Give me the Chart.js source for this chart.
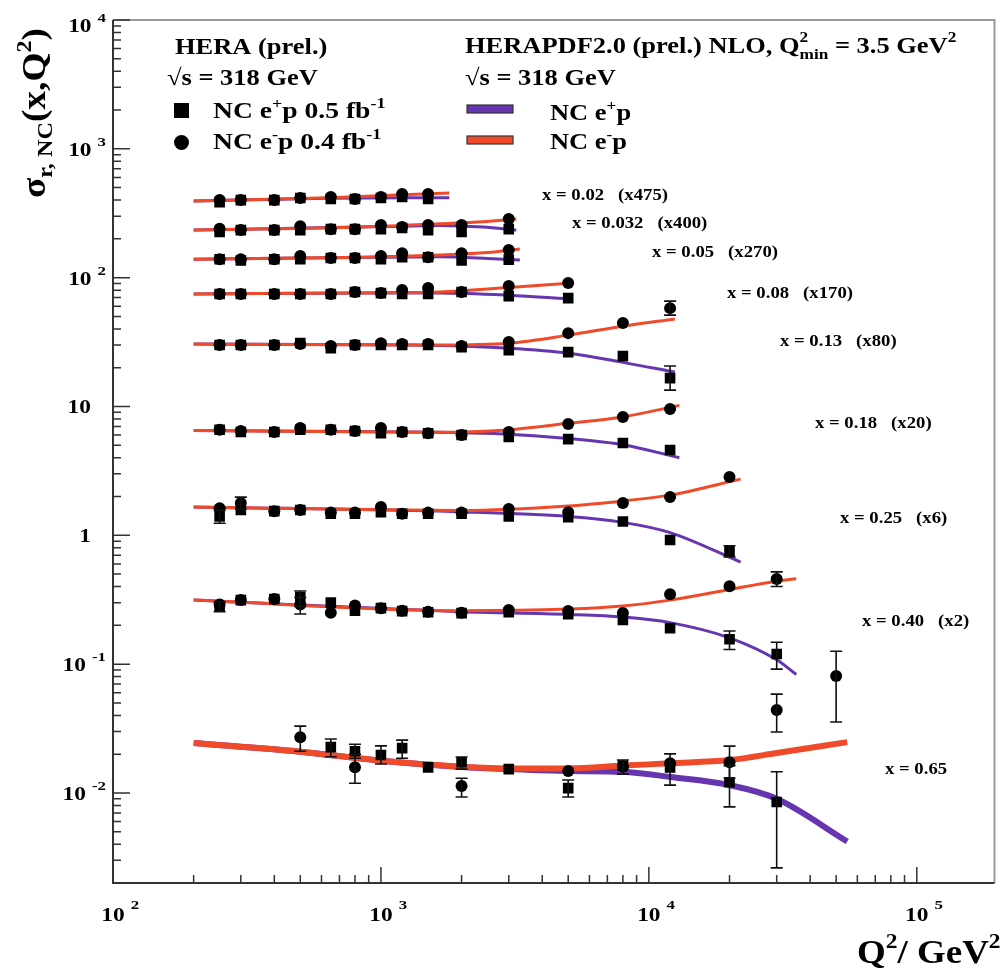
<!DOCTYPE html>
<html>
<head>
<meta charset="utf-8">
<title>HERA NC reduced cross sections</title>
<script src="https://cdn.jsdelivr.net/npm/chart.js@4.4.1/dist/chart.umd.min.js"></script>
<style>
  html, body { margin: 0; padding: 0; background: #fff; }
  canvas { display: block; }
</style>
</head>
<body>
<canvas id="sigmaChart" width="1002" height="972"></canvas>
<script>
// Q2 bins of the measured points (GeV^2)
const Q2 = [250, 300, 400, 500, 650, 800, 1000, 1200, 1500, 2000, 3000, 5000, 8000, 12000, 20000, 30000, 50000];

// sigma_r,NC per x bin, already multiplied by the factor in the row label
// ep = e+p (squares), em = e-p (circles); null = no point
const ep_002  = [386, 400, 400, 415, 408, 408, 415, 423, 408];
const em_002  = [400, 400, 400, 415, 423, 408, 423, 446, 446];
const ep_0032 = [226, 234, 234, 234, 238, 238, 238, 243, 234, 226, 238];
const em_0032 = [240, 234, 234, 251, 238, 238, 256, 247, 256, 256, 285];
const ep_005  = [139, 136, 139, 139, 142, 142, 139, 144, 144, 136, 138];
const em_005  = [139, 139, 139, 147, 142, 142, 147, 155, 144, 155, 164];
const ep_008  = [74.6, 74.6, 74.6, 74.6, 74.6, 77.3, 75.9, 74.6, 74.6, 77.3, 71.9, 69.4];
const em_008  = [74.6, 74.6, 74.6, 74.6, 74.6, 77.3, 75.9, 80.1, 83.0, 77.3, 86.1, 90.8];
const ep_013  = [30.0, 30.0, 30.0, 31.1, 28.4, 30.0, 30.0, 30.0, 30.0, 28.9, 27.4, 26.4, 24.6, 16.6];
const em_013  = [30.0, 30.0, 30.0, 30.5, 29.5, 30.0, 31.0, 30.5, 30.5, 29.5, 31.6, 37.1, 44.4, 58.0];
const ep_018  = [6.6, 6.33, 6.33, 6.6, 6.6, 6.45, 6.2, 6.33, 6.2, 6.0, 5.8, 5.58, 5.2, 4.59];
const em_018  = [6.6, 6.45, 6.33, 6.8, 6.6, 6.45, 6.8, 6.33, 6.2, 6.0, 6.33, 7.3, 8.27, 9.55];
const ep_025  = [1.40, 1.57, 1.54, 1.57, 1.47, 1.47, 1.51, 1.47, 1.47, 1.47, 1.40, 1.38, 1.28, 0.92, 0.75];
const em_025  = [1.62, 1.78, 1.54, 1.57, 1.50, 1.50, 1.66, 1.47, 1.50, 1.50, 1.60, 1.51, 1.78, 1.98, 2.83];
const ep_040  = [0.28, 0.314, 0.32, 0.33, 0.30, 0.26, 0.272, 0.258, 0.253, 0.249, 0.253, 0.244, 0.220, 0.190, 0.156, 0.120];
const em_040  = [0.29, 0.314, 0.32, 0.29, 0.25, 0.285, 0.272, 0.26, 0.255, 0.25, 0.263, 0.258, 0.249, 0.349, 0.403, 0.457];
const ep_065  = [null, null, null, null, 0.0227, 0.0211, 0.0197, 0.0223, 0.0158, 0.0173, 0.0153, 0.0109, 0.0163, 0.0158, 0.0121, 0.0085];
const em_065  = [null, null, null, 0.0271, null, 0.0158, null, null, null, 0.0113, null, 0.0148, 0.0160, 0.0170, 0.0173, 0.044, 0.081];

// error bars large enough to show: [Q2, low, high]
const epErr_013 = [[12000, 13.4, 20.6]];
const emErr_013 = [[12000, 51.2, 65.7]];
const epErr_025 = [[250, 1.24, 1.56], [20000, 0.68, 0.83]];
const emErr_025 = [[300, 1.60, 1.98]];
const epErr_040 = [[250, 0.255, 0.305], [500, 0.28, 0.37], [20000, 0.130, 0.181], [30000, 0.0915, 0.148]];
const emErr_040 = [[500, 0.245, 0.33], [30000, 0.40, 0.52]];
const epErr_065 = [[650, 0.0191, 0.0262], [800, 0.0186, 0.0239], [1000, 0.0168, 0.0232], [1200, 0.0186, 0.0257],
                   [2000, 0.0153, 0.0190], [5000, 0.0093, 0.0126], [8000, 0.0140, 0.0180], [12000, 0.0115, 0.0201],
                   [20000, 0.0078, 0.0163], [30000, 0.00262, 0.0146]];
const emErr_065 = [[500, 0.0211, 0.0330], [800, 0.0119, 0.0200], [2000, 0.0093, 0.0130], [20000, 0.0130, 0.0231],
                   [30000, 0.0297, 0.0585], [50000, 0.0355, 0.126]];

// HERAPDF2.0 NLO predictions: Q2 nodes, e+p and e-p values
const fitQ_002  = [200, 640, 1800];
const fitP_002  = [393, 414, 418];
const fitM_002  = [393, 418, 454];
const fitQ_0032 = [200, 1000, 1650, 2400, 3200];
const fitP_0032 = [234, 249, 254, 247, 234];
const fitM_0032 = [234, 250, 262, 272, 285];
const fitQ_005  = [200, 1000, 1650, 2500, 3300];
const fitP_005  = [139, 144, 145, 141, 137];
const fitM_005  = [139, 145, 150, 157, 167];
const fitQ_008  = [200, 1000, 1650, 3000, 5200];
const fitP_008  = [74.8, 76, 76, 73, 68];
const fitM_008  = [74.8, 76.5, 77.5, 84, 91];
const fitQ_013  = [200, 1650, 3000, 5000, 8000, 12500];
const fitP_013  = [30.5, 29.8, 28.3, 25.9, 22.0, 18.5];
const fitM_013  = [30.5, 30.0, 31.0, 35.8, 42, 47.8];
const fitQ_018  = [200, 1650, 2750, 5000, 8000, 13000];
const fitP_018  = [6.5, 6.3, 6.15, 5.65, 5.05, 4.0];
const fitM_018  = [6.5, 6.3, 6.5, 7.4, 8.3, 10.2];
const fitQ_025  = [200, 2000, 5000, 8000, 12000, 22000];
const fitP_025  = [1.66, 1.52, 1.40, 1.26, 1.05, 0.62];
const fitM_025  = [1.66, 1.56, 1.69, 1.85, 2.05, 2.73];
const fitQ_040  = [200, 2000, 5000, 8000, 12000, 20000, 30000, 35500];
const fitP_040  = [0.314, 0.255, 0.243, 0.232, 0.21, 0.16, 0.108, 0.083];
const fitM_040  = [0.314, 0.26, 0.268, 0.283, 0.314, 0.38, 0.44, 0.46];
const fitQ_065  = [200, 500, 1000, 2000, 3000, 5000, 8000, 12000, 20000, 30000, 55000];
const fitP_065  = [0.0244, 0.0209, 0.0178, 0.0159, 0.0153, 0.0148, 0.0146, 0.0133, 0.0115, 0.0090, 0.0042];
const fitM_065  = [0.0244, 0.0209, 0.0178, 0.0160, 0.0155, 0.0155, 0.0163, 0.0170, 0.0180, 0.0204, 0.0248];

const ROW_NAMES   = ['x = 0.02', 'x = 0.032', 'x = 0.05', 'x = 0.08', 'x = 0.13', 'x = 0.18', 'x = 0.25', 'x = 0.40', 'x = 0.65'];
const ROW_FACTORS = ['(x475)', '(x400)', '(x270)', '(x170)', '(x80)', '(x20)', '(x6)', '(x2)', ''];

// axis ranges and decade labels
const X_RANGE = [100, 1.95e5];
const Y_RANGE = [0.002, 1e4];
const X_DECADES = [2, 3, 4, 5];
const Y_DECADES = [-2, -1, 0, 1, 2, 3, 4];

const PURPLE = '#6636b0';
const RED = '#ef4b2b';
const FONT = '"Liberation Serif", "DejaVu Serif", serif';

const rows = [
    { ep: ep_002,  em: em_002,  epErr: [],        emErr: [],        fq: fitQ_002,  fp: fitP_002,  fm: fitM_002 },
    { ep: ep_0032, em: em_0032, epErr: [],        emErr: [],        fq: fitQ_0032, fp: fitP_0032, fm: fitM_0032 },
    { ep: ep_005,  em: em_005,  epErr: [],        emErr: [],        fq: fitQ_005,  fp: fitP_005,  fm: fitM_005 },
    { ep: ep_008,  em: em_008,  epErr: [],        emErr: [],        fq: fitQ_008,  fp: fitP_008,  fm: fitM_008 },
    { ep: ep_013,  em: em_013,  epErr: epErr_013, emErr: emErr_013, fq: fitQ_013,  fp: fitP_013,  fm: fitM_013 },
    { ep: ep_018,  em: em_018,  epErr: [],        emErr: [],        fq: fitQ_018,  fp: fitP_018,  fm: fitM_018 },
    { ep: ep_025,  em: em_025,  epErr: epErr_025, emErr: emErr_025, fq: fitQ_025,  fp: fitP_025,  fm: fitM_025 },
    { ep: ep_040,  em: em_040,  epErr: epErr_040, emErr: emErr_040, fq: fitQ_040,  fp: fitP_040,  fm: fitM_040 },
    { ep: ep_065,  em: em_065,  epErr: epErr_065, emErr: emErr_065, fq: fitQ_065,  fp: fitP_065,  fm: fitM_065, thick: true }
];

// where the row labels sit on the canvas (left x, baseline y)
const ROW_LABEL_AT = [[542, 200], [572, 228], [652, 257], [727, 298], [780, 346], [815, 428], [840, 523], [862, 626], [885, 774]];

function toPoints(xs, ys) {
    return xs.map((x, i) => (ys[i] == null ? null : { x: x, y: ys[i] })).filter(p => p !== null);
}

function buildDatasets() {
    const sets = [];
    rows.forEach(r => {
        const lw = r.thick ? 6 : 3;
        sets.push({
            data: toPoints(r.fq, r.fp), showLine: true, borderColor: PURPLE, borderWidth: lw,
            pointRadius: 0, cubicInterpolationMode: 'monotone', order: 3
        });
        sets.push({
            data: toPoints(r.fq, r.fm), showLine: true, borderColor: RED, borderWidth: lw,
            pointRadius: 0, cubicInterpolationMode: 'monotone', order: 2
        });
        sets.push({
            data: toPoints(Q2, r.ep), showLine: false, pointStyle: 'rect', pointRadius: 7.5,
            backgroundColor: '#000', borderWidth: 0, order: 1, errs: r.epErr
        });
        sets.push({
            data: toPoints(Q2, r.em), showLine: false, pointStyle: 'circle', pointRadius: 6,
            backgroundColor: '#000', borderWidth: 0, order: 0, errs: r.emErr
        });
    });
    return sets;
}

// text made of pieces, each with its own size and vertical offset (super/subscripts)
function richWidth(ctx, parts) {
    let w = 0;
    parts.forEach(p => {
        ctx.font = 'bold ' + p.s + 'px ' + FONT;
        if (!p.stack) w += ctx.measureText(p.t).width;
    });
    return w;
}

function drawRich(ctx, x, y, parts, sx) {
    ctx.save();
    ctx.translate(x, y);
    ctx.scale(sx || 1, 1);
    ctx.fillStyle = '#000';
    ctx.textBaseline = 'alphabetic';
    ctx.textAlign = 'left';
    let cx = 0;
    parts.forEach(p => {
        ctx.font = 'bold ' + p.s + 'px ' + FONT;
        ctx.fillText(p.t, cx, p.dy || 0);
        if (!p.stack) cx += ctx.measureText(p.t).width;
    });
    ctx.restore();
}

const errorBars = {
    id: 'errorBars',
    afterDatasetsDraw(chart) {
        const ctx = chart.ctx;
        const xs = chart.scales.x, ys = chart.scales.y;
        ctx.save();
        ctx.strokeStyle = '#111';
        ctx.lineWidth = 1.6;
        chart.data.datasets.forEach(ds => {
            (ds.errs || []).forEach(e => {
                const px = xs.getPixelForValue(e[0]);
                const y1 = ys.getPixelForValue(e[1]);
                const y2 = ys.getPixelForValue(e[2]);
                ctx.beginPath();
                ctx.moveTo(px, y1); ctx.lineTo(px, y2);
                ctx.moveTo(px - 6, y1); ctx.lineTo(px + 6, y1);
                ctx.moveTo(px - 6, y2); ctx.lineTo(px + 6, y2);
                ctx.stroke();
            });
        });
        ctx.restore();
    }
};

const frameAndText = {
    id: 'frameAndText',
    afterDraw(chart) {
        const ctx = chart.ctx;
        const { left, right, top, bottom } = chart.chartArea;
        const xs = chart.scales.x, ys = chart.scales.y;
        ctx.save();

        // frame: light top/right, dark axes
        ctx.strokeStyle = '#9a9a9a';
        ctx.lineWidth = 2;
        ctx.beginPath();
        ctx.moveTo(left, top); ctx.lineTo(right, top); ctx.lineTo(right, bottom);
        ctx.stroke();
        ctx.strokeStyle = '#333';
        ctx.beginPath();
        ctx.moveTo(left, top); ctx.lineTo(left, bottom); ctx.lineTo(right, bottom);
        ctx.stroke();

        // log ticks pointing into the frame
        ctx.lineWidth = 1.5;
        ctx.beginPath();
        for (let d = -3; d <= 4; d++) {
            for (let m = 1; m <= 9; m++) {
                const v = m * Math.pow(10, d);
                if (v < Y_RANGE[0] * 0.999 || v > Y_RANGE[1] * 1.001) continue;
                const py = ys.getPixelForValue(v);
                ctx.moveTo(left, py); ctx.lineTo(left + (m === 1 ? 17 : 8), py);
            }
        }
        for (let d = 2; d <= 5; d++) {
            for (let m = 1; m <= 9; m++) {
                const v = m * Math.pow(10, d);
                if (v < X_RANGE[0] * 0.999 || v > X_RANGE[1]) continue;
                const px = xs.getPixelForValue(v);
                ctx.moveTo(px, bottom); ctx.lineTo(px, bottom - (m === 1 ? 16 : 8));
            }
        }
        ctx.stroke();

        // y tick labels, right aligned
        Y_DECADES.forEach(d => {
            const py = ys.getPixelForValue(Math.pow(10, d));
            const base = Math.max(py + 7, 32);
            if (d === 0 || d === 1) {
                const parts = [{ t: d === 0 ? '1' : '10', s: 18 }];
                drawRich(ctx, 91 - richWidth(ctx, parts) * 1.3, base, parts, 1.3);
            } else {
                const sup = [{ t: String(d), s: 13 }];
                const sw = richWidth(ctx, sup) * 1.3;
                drawRich(ctx, 106 - sw, base - 10, sup, 1.3);
                const main = [{ t: '10', s: 18 }];
                drawRich(ctx, 106 - sw - 6 - richWidth(ctx, main) * 1.3, base, main, 1.3);
            }
        });

        // x tick labels
        X_DECADES.forEach(d => {
            const px = xs.getPixelForValue(Math.pow(10, d));
            const main = [{ t: '10', s: 18 }];
            const mw = richWidth(ctx, main) * 1.3;
            drawRich(ctx, px - mw / 2, 921, main, 1.3);
            drawRich(ctx, px + mw / 2 + 6, 909, [{ t: String(d), s: 13 }], 1.3);
        });

        // axis titles
        drawRich(ctx, 857, 963, [{ t: 'Q', s: 33 }, { t: '2', s: 21, dy: -15 }, { t: '/ GeV', s: 33 }, { t: '2', s: 21, dy: -15 }], 1.12);
        ctx.save();
        ctx.translate(45, 198);
        ctx.rotate(-Math.PI / 2);
        drawRich(ctx, 0, 0, [{ t: 'σ', s: 34 }, { t: 'r, NC', s: 22, dy: 7 }, { t: '(x,Q', s: 34 },
                             { t: '2', s: 22, dy: -14 }, { t: ')', s: 34 }], 1.1);
        ctx.restore();

        // data legend
        const L = 23, S = 15, SX = 1.15;
        drawRich(ctx, 175, 54, [{ t: 'HERA (prel.)', s: L }], SX);
        drawRich(ctx, 167, 85, [{ t: '√s = 318 GeV', s: L }], SX);
        ctx.fillStyle = '#000';
        ctx.fillRect(174, 103, 15, 15);
        ctx.beginPath();
        ctx.arc(181.5, 142.5, 7.5, 0, Math.PI * 2);
        ctx.fill();
        drawRich(ctx, 213, 118, [{ t: 'NC e', s: L }, { t: '+', s: S, dy: -10 }, { t: 'p 0.5 fb', s: L }, { t: '-1', s: S, dy: -10 }], 1.2);
        drawRich(ctx, 213, 149, [{ t: 'NC e', s: L }, { t: '-', s: S, dy: -10 }, { t: 'p 0.4 fb', s: L }, { t: '-1', s: S, dy: -10 }], 1.2);

        // fit legend
        drawRich(ctx, 465, 53, [{ t: 'HERAPDF2.0 (prel.) NLO, Q', s: L }, { t: '2', s: S, dy: -11, stack: true },
                                { t: 'min', s: S, dy: 6 }, { t: ' = 3.5 GeV', s: L }, { t: '2', s: S, dy: -11 }], SX);
        drawRich(ctx, 465, 85, [{ t: '√s = 318 GeV', s: L }], SX);
        ctx.lineWidth = 1.2;
        ctx.strokeStyle = '#333';
        ctx.fillStyle = PURPLE;
        ctx.fillRect(467, 105, 46, 8);
        ctx.strokeRect(467, 105, 46, 8);
        ctx.fillStyle = RED;
        ctx.fillRect(467, 136, 46, 8);
        ctx.strokeRect(467, 136, 46, 8);
        drawRich(ctx, 550, 120, [{ t: 'NC e', s: L }, { t: '+', s: S, dy: -10 }, { t: 'p', s: L }], SX);
        drawRich(ctx, 550, 149, [{ t: 'NC e', s: L }, { t: '-', s: S, dy: -10 }, { t: 'p', s: L }], SX);

        // x bin labels with their scale factors
        ROW_NAMES.forEach((name, i) => {
            const at = ROW_LABEL_AT[i];
            const parts = [{ t: name, s: 17 }];
            if (ROW_FACTORS[i]) parts.push({ t: '   ' + ROW_FACTORS[i], s: 17 });
            drawRich(ctx, at[0], at[1], parts, 1.1);
        });

        ctx.restore();
    }
};

const ctx = document.getElementById('sigmaChart').getContext('2d');
new Chart(ctx, {
    type: 'scatter',
    data: { datasets: buildDatasets() },
    options: {
        responsive: false,
        animation: false,
        events: [],
        layout: { padding: { left: 113, top: 20, right: 2, bottom: 89 } },
        scales: {
            x: { type: 'logarithmic', min: X_RANGE[0], max: X_RANGE[1], display: false },
            y: { type: 'logarithmic', min: Y_RANGE[0], max: Y_RANGE[1], display: false }
        },
        plugins: { legend: { display: false }, tooltip: { enabled: false } }
    },
    plugins: [errorBars, frameAndText]
});
</script>
</body>
</html>
